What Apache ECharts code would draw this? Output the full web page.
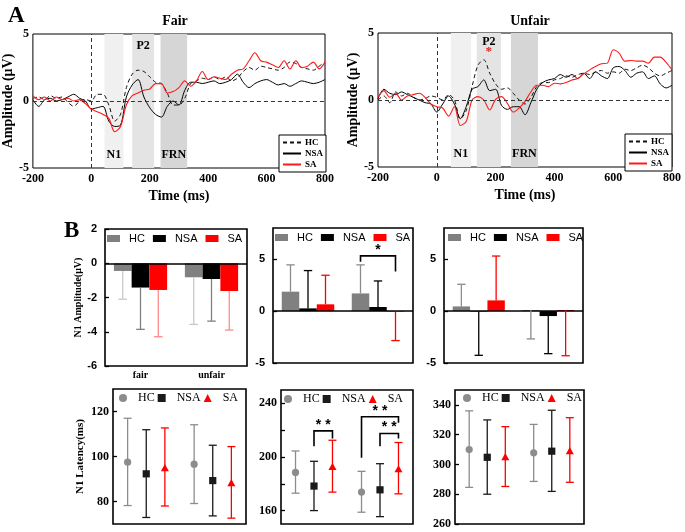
<!DOCTYPE html>
<html><head><meta charset="utf-8">
<script src="https://cdn.jsdelivr.net/npm/echarts@6/dist/echarts.min.js"></script>
<style>html,body{margin:0;padding:0;background:#fff}#c{width:685px;height:532px}</style>
</head><body><div id="c"></div>
<script>
// ---------- Panel A: ERP waveforms ----------
const times = [-200,-180,-160,-140,-120,-100,-80,-60,-40,-20,0,20,40,60,80,100,120,140,160,180,200,220,240,260,280,300,320,340,360,380,400,420,440,460,480,500,520,540,560,580,600,620,640,660,680,700,720,740,760,780,800];
const fairHC  = [0.2,0.3,0.1,0.4,0.2,0.3,-0.1,-0.4,0.0,0.1, 0.0,0.5,0.5,-0.3,-1.5,-1.0,1.0,2.0,2.3,2.2, 1.8,1.4,1.3,0.6,-0.3,-0.3,0.2,1.3,1.5,1.7, 1.6,1.8,1.6,1.8,1.5,1.7,2.2,2.5,2.3,2.6, 2.5,2.4,2.3,2.5,2.9,2.8,2.5,2.4,2.3,2.6, 2.9];
const fairNSA = [0.1,-0.4,0.1,0.2,0.0,0.1,0.3,0.5,0.2,0.0, -0.6,-0.5,-0.4,-1.5,-1.9,-1.8,0.3,1.2,1.6,0.3, -0.5,-1.0,-1.2,-0.4,0.0,-0.3,0.8,1.4,1.4,1.3, 1.4,1.5,1.3,1.4,1.6,2.0,1.4,1.0,1.3,1.5, 1.6,1.4,1.2,1.3,1.1,1.3,1.5,1.4,1.3,1.4, 1.6];
const fairSA  = [0.4,0.1,0.3,0.0,0.3,0.1,0.2,0.0,0.1,-0.2, -0.6,-0.8,-1.0,-1.3,-2.3,-1.9,-0.3,0.4,0.6,0.8, 0.9,1.3,1.3,0.6,0.7,1.0,1.5,1.1,1.5,2.2, 1.6,1.8,1.7,1.6,2.0,2.3,2.4,3.0,3.6,3.0, 2.9,2.7,2.5,3.0,2.4,3.0,2.5,2.6,2.9,2.4, 2.9];
const unfairHC  = [0.0,0.3,-0.2,0.6,0.3,0.5,0.2,0.0,0.1,0.3, 0.2,0.0,0.4,0.0,-1.4,-0.8,1.0,2.6,3.0,2.0, 1.2,0.8,0.9,0.5,0.0,-0.3,0.2,1.0,1.3,1.3, 1.5,1.6,1.8,1.7,1.9,2.0,1.9,2.1,2.2,2.0, 2.1,2.0,2.3,2.2,2.4,2.6,2.4,2.0,1.8,2.0, 2.2];
const unfairNSA = [0.1,0.8,0.5,0.4,0.6,0.4,0.2,0.0,-0.2,-0.3, -0.9,-0.3,0.3,-0.3,-1.4,-0.5,0.8,1.0,1.5,0.7, 0.8,-0.4,-0.7,-0.5,-0.5,-1.1,-0.2,0.8,1.3,1.5, 1.6,1.9,1.7,1.9,1.6,2.0,1.6,2.1,1.8,1.6, 2.4,2.5,2.2,1.7,2.0,2.1,1.6,1.8,1.2,0.9, 1.1];
const unfairSA  = [0.2,0.7,0.2,0.5,0.0,0.3,0.4,0.5,0.2,-0.3, -0.5,-0.6,-1.2,-0.5,-1.9,-1.6,0.0,0.25,0.0,-0.75, 0.05,0.25,-0.25,-0.9,-0.6,-0.1,0.6,1.1,1.1,1.0, 1.25,1.2,1.3,1.5,1.6,1.95,2.25,2.5,2.7,2.75, 3.75,3.5,2.9,2.95,2.9,2.9,2.75,3.2,3.2,2.8, 2.25];
const bandNames = ['N1','P2','FRN'];
const bandsFair = [[45,110],[140,215],[237,328]];
const bandsUnfair = [[48,116],[136,218],[252,344]];
const groups = ['HC','NSA','SA'];
const conds = ['fair','unfair'];

// ---------- Panel B: amplitudes (bar mean, error bar end) ----------
const n1AmpHC = [-0.45,-0.82], n1AmpNSA = [-1.42,-0.92], n1AmpSA = [-1.56,-1.62];
const n1AmpEndHC = [-2.1,-3.57], n1AmpEndNSA = [-3.86,-3.38], n1AmpEndSA = [-4.29,-3.9];
const p2AmpHC = [1.87,1.7], p2AmpNSA = [0.26,0.39], p2AmpSA = [0.65,-0.05];
const p2AmpEndHC = [4.45,4.45], p2AmpEndNSA = [3.9,2.9], p2AmpEndSA = [3.45,-2.84];
const frnAmpHC = [0.45,0.1], frnAmpNSA = [-0.05,-0.48], frnAmpSA = [1.03,0.1];
const frnAmpEndHC = [2.58,-2.68], frnAmpEndNSA = [-4.26,-4.1], frnAmpEndSA = [5.3,-4.3];

// ---------- Panel B: latencies (mean, low, high) ----------
const n1LatHC = [97.5,96.6], n1LatLoHC = [78.2,79.1], n1LatHiHC = [117,114.1];
const n1LatNSA = [92.3,89.3], n1LatLoNSA = [72.9,73.6], n1LatHiNSA = [111.9,105];
const n1LatSA = [94.8,88.1], n1LatLoSA = [78,72.6], n1LatHiSA = [112.7,104.4];
const p2LatHC = [188.5,173.8], p2LatLoHC = [173,158.8], p2LatHiHC = [204.5,189.3];
const p2LatNSA = [178.3,175.5], p2LatLoNSA = [160,155.5], p2LatHiNSA = [196.8,195];
const p2LatSA = [192.5,190.8], p2LatLoSA = [173.8,172.5], p2LatHiSA = [212.5,210.8];
const frnLatHC = [310,307.8], frnLatLoHC = [284.6,288.6], frnLatHiHC = [336,326.9];
const frnLatNSA = [304.8,308.9], frnLatLoNSA = [280,281.9], frnLatHiNSA = [329.9,336.4];
const frnLatSA = [304.8,308.9], frnLatLoSA = [285.2,288], frnLatHiSA = [325.4,331.4];

// significance brackets: [condL, groupL, condR, groupR, top, leftEnd, rightEnd, stars]
const p2AmpSig = [[1,0,1,2,5.32,4.74,3.8,1]];
const p2LatSig = [[0,1,0,2,219.5,208,213.75,2],[1,0,1,2,230,199.5,225.5,2],[1,1,1,2,217.5,208,213.75,2]];

// tick labels
const ampTicksN1 = [-6,-4,-2,0,2];
const ampTicks = [-5,0,5];
const n1LatTicks = [80,100,120];
const p2LatTicks = [160,200,240], p2LatMinor = [160,180,200,220,240];
const frnLatTicks = [260,280,300,320,340];

const SERIF = 'Liberation Serif', SANS = 'Liberation Sans';
const grids = [], xAxes = [], yAxes = [], series = [], legends = [];
const strip = n => n.split('_')[0];

function addGrid(box, bw) {
  grids.push(Object.assign({show:true, borderColor:'#000', borderWidth:bw, backgroundColor:'transparent'}, box));
  return grids.length - 1;
}

function erpPanel(box, hc, nsa, sa, bands, yNameGap, starP2, legendBox) {
  const gi = addGrid(box, 1);
  xAxes.push({gridIndex:gi, type:'value', min:-200, max:800, interval:200,
    axisLine:{show:false}, axisTick:{show:false}, splitLine:{show:false},
    axisLabel:{fontFamily:SERIF, fontWeight:'bold', fontSize:12, color:'#000', margin:5},
    name:'Time (ms)', nameLocation:'middle', nameGap:21,
    nameTextStyle:{fontFamily:SERIF, fontWeight:'bold', fontSize:14, color:'#000'}});
  yAxes.push({gridIndex:gi, type:'value', min:-5, max:5, interval:5,
    axisLine:{show:false}, axisTick:{show:false}, splitLine:{show:false},
    axisLabel:{fontFamily:SERIF, fontWeight:'bold', fontSize:12, color:'#000', margin:4},
    name:'Amplitude (μV)', nameLocation:'middle', nameGap:yNameGap,
    nameTextStyle:{fontFamily:SERIF, fontWeight:'bold', fontSize:14, color:'#000'}});
  const ax = xAxes.length - 1;
  const base = {type:'line', xAxisIndex:ax, yAxisIndex:ax, symbol:'none', smooth:0.3, z:3, silent:true};
  const bandColors = ['#f0f0f0','#e4e4e4','#d6d6d6'];
  const lblFont = {fontFamily:SERIF, fontWeight:'bold', fontSize:12, color:'#000'};
  series.push(Object.assign({}, base, {name:'HC', data:times.map((t,i)=>[t,hc[i]]),
    lineStyle:{color:'#111', width:1, type:[4,3]}, itemStyle:{color:'#111'},
    markArea:{silent:true, data:bands.map((b,k)=>[{xAxis:b[0], itemStyle:{color:bandColors[k]},
      label:Object.assign({show:true, position:k===1?'insideTop':'insideBottom', distance:k===1?(starP2?3:6):7,
        formatter: (k===1 && starP2) ? '{a|P2}\n{s|*}' : bandNames[k],
        rich:{a:Object.assign({}, lblFont, {lineHeight:11}), s:{fontFamily:SERIF, fontWeight:'bold', fontSize:13, color:'#e02020', lineHeight:10}}}, lblFont)},
      {xAxis:b[1]}])},
    markLine:{silent:true, symbol:['none','none'], label:{show:false},
      lineStyle:{type:[4,3], color:'#333', width:1}, data:[{yAxis:0},{xAxis:0}]}}));
  series.push(Object.assign({}, base, {name:'NSA', data:times.map((t,i)=>[t,nsa[i]]),
    lineStyle:{color:'#000', width:1}, itemStyle:{color:'#000'}}));
  series.push(Object.assign({}, base, {name:'SA', data:times.map((t,i)=>[t,sa[i]]),
    lineStyle:{color:'#ff1a1a', width:1.1}, itemStyle:{color:'#ff1a1a'}}));
  legends.push({left:legendBox[0], top:legendBox[1], orient:'vertical', selectedMode:false,
    data:groups, backgroundColor:'#fff', borderColor:'#000', borderWidth:1, padding:[3,3,3,3],
    itemGap:2, itemWidth:18, itemHeight:8, z:10,
    itemStyle:{opacity:0, borderWidth:0},
    textStyle:{fontFamily:SERIF, fontWeight:'bold', fontSize:9, color:'#000', lineHeight:9, padding:[0,0,0,-1]}});
}

function errSeries(ax, g, off, lo, hi, mean, color, capHalf, capBoth, sym, name) {
  return {type:'custom', name:name, xAxisIndex:ax, yAxisIndex:ax, z:5, silent:true, clip:false,
    itemStyle:{color:color},
    data: lo.map((v,i)=>[i, v, hi[i], mean ? mean[i] : 0]),
    renderItem:(params, api)=>{
      const i = api.value(0);
      const bw = api.size([1,0])[0];
      const a = api.coord([i, api.value(1)]), b = api.coord([i, api.value(2)]);
      const x = a[0] + (g-1)*off*bw;
      const st = {stroke:color, lineWidth:1.3, fill:null};
      const ch = [{type:'line', shape:{x1:x,y1:a[1],x2:x,y2:b[1]}, style:st},
                  {type:'line', shape:{x1:x-capHalf,y1:b[1],x2:x+capHalf,y2:b[1]}, style:st}];
      if (capBoth) ch.push({type:'line', shape:{x1:x-capHalf,y1:a[1],x2:x+capHalf,y2:a[1]}, style:st});
      if (sym) {
        const cy = api.coord([i, api.value(3)])[1], r = 3.6;
        if (sym==='circle') ch.push({type:'circle', shape:{cx:x,cy:cy,r:r}, style:{fill:color}});
        else if (sym==='rect') ch.push({type:'rect', shape:{x:x-r,y:cy-r,width:2*r,height:2*r}, style:{fill:color}});
        else ch.push({type:'polygon', shape:{points:[[x,cy-r-0.6],[x+r+0.4,cy+r-0.6],[x-r-0.4,cy+r-0.6]]}, style:{fill:color}});
      }
      return {type:'group', children:ch};
    }};
}

function bracketSeries(ax, rows, off) {
  return {type:'custom', xAxisIndex:ax, yAxisIndex:ax, z:6, silent:true, clip:false, data:rows,
    renderItem:(params, api)=>{
      const bw = api.size([1,0])[0];
      const cL = api.value(0), gL = api.value(1), cR = api.value(2), gR = api.value(3);
      const pT = api.coord([cL, api.value(4)]);
      const yl = api.coord([cL, api.value(5)])[1], yr = api.coord([cR, api.value(6)])[1];
      const xl = pT[0] + (gL-1)*off*bw;
      const xr = api.coord([cR, api.value(4)])[0] + (gR-1)*off*bw;
      const top = pT[1];
      return {type:'group', children:[
        {type:'polyline', shape:{points:[[xl,yl],[xl,top],[xr,top],[xr,yr]]}, style:{stroke:'#000', lineWidth:1.6, fill:null}},
        {type:'text', style:{text: api.value(7)===2 ? '* *' : '*', x:(xl+xr)/2, y:top-6,
          align:'center', verticalAlign:'middle', textAlign:'center', textVerticalAlign:'middle',
          font:'bold 14px "Liberation Sans"', fill:'#000'}}]};
    }};
}

function valueY(gi, min, max, labels, ticks, fam, size, margin, name, nameGap, nameSize) {
  const y = {gridIndex:gi, type:'value', min:min, max:max, splitLine:{show:false},
    axisLine:{show:false},
    axisTick:{show:true, inside:true, length:4, customValues:ticks, lineStyle:{color:'#000', width:1.3}},
    axisLabel:{customValues:labels, fontFamily:fam, fontWeight:'bold', fontSize:size, color:'#000', margin:margin}};
  if (name) Object.assign(y, {name:name, nameLocation:'middle', nameGap:nameGap,
    nameTextStyle:{fontFamily:SERIF, fontWeight:'bold', fontSize:nameSize, color:'#000'}});
  yAxes.push(y);
}

function barPanel(box, min, max, ticks, means, ends, errColors, showX, yName, yNameGap, legendPos, sig) {
  const gi = addGrid(box, 1.6);
  xAxes.push({gridIndex:gi, type:'category', data:conds, axisLine:{show:false, onZero:false}, axisTick:{show:false},
    axisLabel:{show:showX, fontFamily:SERIF, fontWeight:'bold', fontSize:10, color:'#000', margin:4}});
  valueY(gi, min, max, ticks, ticks, SANS, 11, 8, yName, yNameGap, 10);
  const ax = xAxes.length - 1;
  const colors = ['#808080','#000000','#ff0000'];
  groups.forEach((g,k)=>{
    const s = {type:'bar', name:g+'_b', xAxisIndex:ax, yAxisIndex:ax, data:means[k], barWidth:'25%', barGap:'0%',
      itemStyle:{color:colors[k]}, silent:true, z:2};
    if (k===0) s.markLine = {silent:true, symbol:['none','none'], label:{show:false}, z:4,
      lineStyle:{type:'solid', color:'#000', width:1.6}, data:[{yAxis:0}]};
    series.push(s);
    series.push(errSeries(ax, k, 0.25, means[k], ends[k], null, errColors[k], box.width*0.03, false, null, 'err'+g));
  });
  if (sig) series.push(bracketSeries(ax, sig, 0.25));
  legends.push({left:legendPos[0], top:legendPos[1], selectedMode:false, padding:0, itemGap:8,
    itemWidth:13, itemHeight:7, formatter:strip,
    data:groups.map((g,k)=>({name:g+'_b', icon:'rect', itemStyle:{color:colors[k]}})),
    textStyle:{fontFamily:SANS, fontSize:11, color:'#000', padding:[0,0,0,4]}});
}

function pointPanel(box, min, max, labels, ticks, means, lows, highs, yName, yNameGap, legendPos, sig) {
  const gi = addGrid(box, 1.6);
  xAxes.push({gridIndex:gi, type:'category', data:conds, axisLine:{show:false, onZero:false}, axisTick:{show:false},
    axisLabel:{show:false}});
  valueY(gi, min, max, labels, ticks, SERIF, 12, 4, yName, yNameGap, 11);
  const ax = xAxes.length - 1;
  const errC = ['#8c8c8c','#1a1a1a','#ff0000'];
  const syms = ['circle','rect','triangle'];
  groups.forEach((g,k)=>{
    series.push(errSeries(ax, k, 0.28, lows[k], highs[k], means[k], errC[k], 4, true, syms[k], g+'_p'));
  });
  if (sig) series.push(bracketSeries(ax, sig, 0.28));
  legends.push({left:legendPos[0], top:legendPos[1], selectedMode:false, padding:0, itemGap:3,
    itemWidth:8, itemHeight:8, formatter:strip,
    data:groups.map((g,k)=>({name:g+'_p', icon:syms[k], itemStyle:{color:errC[k]}})),
    textStyle:{fontFamily:SERIF, fontSize:12, color:'#000', padding:[0,0,0,6]}});
}

erpPanel({left:29, top:34, width:296, height:134}, fairHC, fairNSA, fairSA, bandsFair, 15, false, [279,135]);
erpPanel({left:378, top:33, width:294, height:134}, unfairHC, unfairNSA, unfairSA, bandsUnfair, 13, true, [625,134]);

barPanel({left:105, top:229, width:142, height:137}, -6, 2, ampTicksN1,
  [n1AmpHC, n1AmpNSA, n1AmpSA], [n1AmpEndHC, n1AmpEndNSA, n1AmpEndSA],
  ['#c8c8c8','#808080','#ff8a8a'], true, 'N1 Amplitude(μV)', 18, [107,233], null);
barPanel({left:273, top:228, width:140, height:135}, -5, 8, ampTicks,
  [p2AmpHC, p2AmpNSA, p2AmpSA], [p2AmpEndHC, p2AmpEndNSA, p2AmpEndSA],
  ['#8c8c8c','#000000','#ff0000'], false, null, 0, [275,232], p2AmpSig);
barPanel({left:444, top:228, width:139, height:135}, -5, 8, ampTicks,
  [frnAmpHC, frnAmpNSA, frnAmpSA], [frnAmpEndHC, frnAmpEndNSA, frnAmpEndSA],
  ['#8c8c8c','#000000','#ff0000'], false, null, 0, [448,232], null);

pointPanel({left:113, top:389, width:133, height:135}, 70, 130, n1LatTicks, n1LatTicks,
  [n1LatHC, n1LatNSA, n1LatSA], [n1LatLoHC, n1LatLoNSA, n1LatLoSA], [n1LatHiHC, n1LatHiNSA, n1LatHiSA],
  'N1 Latency(ms)', 27, [119,392], null);
pointPanel({left:281, top:390, width:132, height:134}, 150, 250, p2LatTicks, p2LatMinor,
  [p2LatHC, p2LatNSA, p2LatSA], [p2LatLoHC, p2LatLoNSA, p2LatLoSA], [p2LatHiHC, p2LatHiNSA, p2LatHiSA],
  null, 0, [284,393], p2LatSig);
pointPanel({left:455, top:390, width:129, height:134}, 260, 350, frnLatTicks, frnLatTicks,
  [frnLatHC, frnLatNSA, frnLatSA], [frnLatLoHC, frnLatLoNSA, frnLatLoSA], [frnLatHiHC, frnLatHiNSA, frnLatHiSA],
  null, 0, [463,392], null);

const chart = echarts.init(document.getElementById('c'));
chart.setOption({
  animation:false,
  backgroundColor:'#fff',
  title:[
    {text:'A', left:3, top:0, textStyle:{fontFamily:SERIF, fontWeight:'bold', fontSize:23, color:'#000'}},
    {text:'B', left:59, top:215, textStyle:{fontFamily:SERIF, fontWeight:'bold', fontSize:23, color:'#000'}},
    {text:'Fair', left:170, top:9, textAlign:'center', textStyle:{fontFamily:SERIF, fontWeight:'bold', fontSize:14, color:'#000'}},
    {text:'Unfair', left:525, top:9, textAlign:'center', textStyle:{fontFamily:SERIF, fontWeight:'bold', fontSize:14, color:'#000'}}
  ],
  grid:grids, xAxis:xAxes, yAxis:yAxes, legend:legends, series:series
});
</script></body></html>
